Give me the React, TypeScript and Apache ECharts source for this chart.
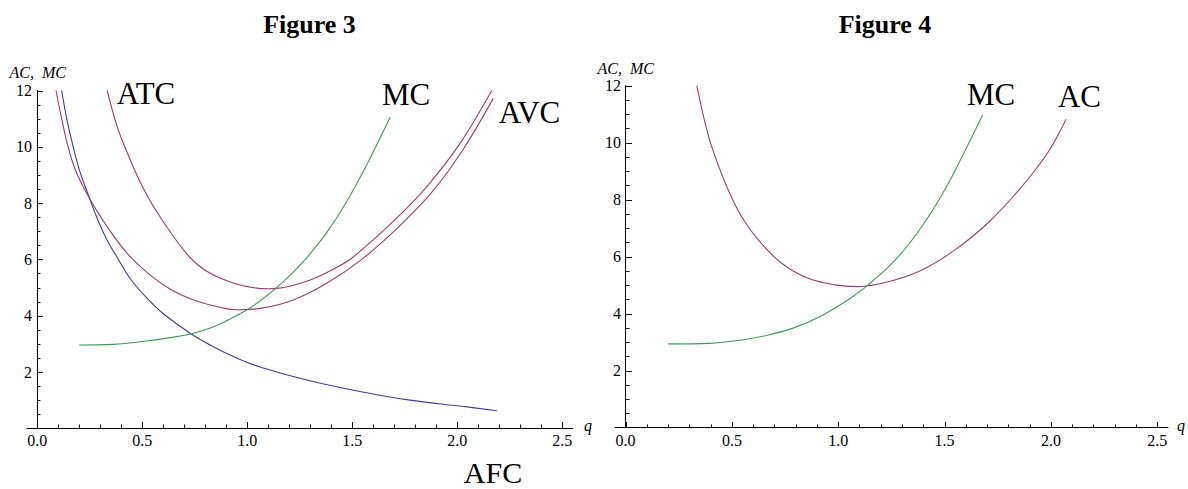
import React, { useEffect, useRef } from 'react';
import * as echarts from 'echarts';

// ---------- Data ----------
const X_LABELS = [0, 0.5, 1, 1.5, 2, 2.5];
const Y_LABELS = [2, 4, 6, 8, 10, 12];

// Figure 3
const AFC_Q = [0.116, 0.14, 0.171, 0.203, 0.243, 0.283, 0.33, 0.378, 0.441, 0.521, 0.6, 0.735, 0.838, 0.949, 1.06, 1.298, 1.536, 1.775, 2.013, 2.188];
const AFC_V = [12.0, 11.0, 10.0, 9.12, 8.29, 7.5, 6.72, 6.1, 5.33, 4.63, 4.07, 3.34, 2.9, 2.5, 2.18, 1.69, 1.31, 1.0, 0.79, 0.625];

const AVC_Q = [0.089, 0.116, 0.143, 0.18, 0.235, 0.307, 0.418, 0.521, 0.632, 0.759, 0.886, 0.949, 1.07, 1.219, 1.378, 1.545, 1.727, 1.886, 2.029, 2.171];
const AVC_V = [12.0, 11.0, 10.1, 9.2, 8.35, 7.45, 6.3, 5.55, 4.95, 4.52, 4.27, 4.21, 4.27, 4.56, 5.15, 6.0, 7.2, 8.45, 9.92, 11.72];

const ATC_Q = [0.333, 0.378, 0.426, 0.489, 0.569, 0.7, 0.79, 0.918, 1.045, 1.1, 1.14, 1.3, 1.426, 1.5, 1.695, 1.854, 2.013, 2.164];
const ATC_V = [12.0, 10.77, 9.83, 8.76, 7.69, 6.3, 5.66, 5.2, 4.98, 4.96, 4.97, 5.27, 5.72, 6.06, 7.35, 8.58, 10.12, 12.0];

const MC3_Q = [0.2, 0.362, 0.521, 0.632, 0.735, 0.854, 0.997, 1.06, 1.14, 1.219, 1.29, 1.378, 1.473, 1.568, 1.68];
const MC3_V = [2.96, 2.98, 3.1, 3.22, 3.36, 3.65, 4.2, 4.52, 5.0, 5.55, 6.12, 6.95, 8.05, 9.35, 11.05];

// Figure 4
const AC_Q = [0.335, 0.382, 0.421, 0.483, 0.546, 0.624, 0.734, 0.859, 0.985, 1.09, 1.236, 1.393, 1.549, 1.706, 1.863, 1.988, 2.071];
const AC_V = [12.0, 10.45, 9.51, 8.34, 7.4, 6.59, 5.77, 5.24, 5.01, 4.95, 5.12, 5.53, 6.24, 7.2, 8.46, 9.68, 10.82];

const MC4_Q = [0.201, 0.389, 0.546, 0.671, 0.797, 0.922, 1.033, 1.09, 1.134, 1.236, 1.33, 1.424, 1.518, 1.596, 1.679];
const MC4_V = [2.94, 2.96, 3.08, 3.25, 3.52, 3.93, 4.42, 4.72, 4.97, 5.64, 6.42, 7.4, 8.58, 9.72, 10.97];

// ---------- Styling ----------
const SERIF = 'Liberation Serif';
const PURPLE = '#993d71';
const BLUE = '#3f3d99';
const GREEN = '#3d9956';

// tick positions (axis decoration): x every 0.1, y every 0.5
const X_TICKS: number[] = [];
for (let i = 0; i <= 25; i++) X_TICKS.push(i / 10);
const Y_TICKS: number[] = [];
for (let i = 1; i <= 24; i++) Y_TICKS.push(i / 2);

const zip = (q: number[], v: number[]) => q.map((x, i) => [x, v[i]]);
const isMajorX = (v: number) => X_LABELS.some((m) => Math.abs(m - v) < 1e-6);
const isMajorY = (v: number) => Y_LABELS.some((m) => Math.abs(m - v) < 1e-6);

function xAxis(gridIndex: number) {
  return {
    gridIndex,
    type: 'value',
    min: -0.05,
    max: 2.55,
    position: 'bottom',
    axisLine: { show: true, onZero: false, lineStyle: { color: '#000', width: 1 } },
    axisTick: { show: false },
    axisLabel: { show: false },
    splitLine: { show: false },
  };
}

function yAxis(gridIndex: number) {
  return {
    gridIndex,
    type: 'value',
    min: 0,
    max: 12,
    interval: 2,
    axisLine: { show: true, onZero: true, lineStyle: { color: '#000', width: 1 } },
    axisTick: { show: false },
    axisLabel: { show: false },
    splitLine: { show: false },
  };
}

function line(name: string, q: number[], v: number[], color: string, idx: number) {
  return {
    name,
    type: 'line',
    xAxisIndex: idx,
    yAxisIndex: idx,
    data: zip(q, v),
    showSymbol: false,
    smooth: 0.35,
    lineStyle: { color, width: 1.1 },
    itemStyle: { color },
    z: 3,
  };
}

// x-axis ticks + labels, placed through the axis scale
function xTicks(idx: number) {
  return {
    type: 'custom',
    xAxisIndex: idx,
    yAxisIndex: idx,
    clip: false,
    silent: true,
    z: 5,
    data: X_TICKS.map((v) => [v, 0]),
    renderItem: (params: any, api: any) => {
      const v = api.value(0);
      const p = api.coord([v, 0]);
      const major = isMajorX(v);
      const x = Math.round(p[0]);
      const y = Math.round(p[1]);
      const len = major ? 6 : 3.5;
      const children: any[] = [
        {
          type: 'rect',
          shape: { x, y: y - len, width: 1, height: len },
          style: { fill: '#111' },
        },
      ];
      if (major) {
        children.push({
          type: 'text',
          style: {
            x: p[0],
            y: y + 4,
            text: v.toFixed(1),
            fill: '#000',
            font: `16px "${SERIF}"`,
            align: 'center',
            verticalAlign: 'top',
          },
        });
      }
      return { type: 'group', children };
    },
  };
}

// y-axis ticks + labels, placed through the axis scale (the y axis sits on x = 0)
function yTicks(idx: number) {
  return {
    type: 'custom',
    xAxisIndex: idx,
    yAxisIndex: idx,
    clip: false,
    silent: true,
    z: 5,
    data: Y_TICKS.map((v) => [0, v]),
    renderItem: (params: any, api: any) => {
      const v = api.value(1);
      const p = api.coord([0, v]);
      const major = isMajorY(v);
      const x = Math.round(p[0]);
      const y = Math.round(p[1]);
      const children: any[] = [
        {
          type: 'rect',
          shape: { x, y, width: major ? 6 : 3.5, height: 1 },
          style: { fill: '#111' },
        },
      ];
      if (major) {
        children.push({
          type: 'text',
          style: {
            x: x - 5,
            y: p[1],
            text: String(v),
            fill: '#000',
            font: `16px "${SERIF}"`,
            align: 'right',
            verticalAlign: 'middle',
          },
        });
      }
      return { type: 'group', children };
    },
  };
}

function txt(text: string, x: number, y: number, fontSize: number, extra: any = {}) {
  return {
    type: 'text',
    x,
    y,
    silent: true,
    style: {
      text,
      fill: '#000',
      fontFamily: SERIF,
      fontSize,
      align: 'center',
      verticalAlign: 'middle',
      ...extra,
    },
  };
}

export default function App() {
  const ref = useRef<HTMLDivElement>(null);

  useEffect(() => {
    if (!ref.current) return;
    const chart = echarts.init(ref.current, null, { renderer: 'svg' });
    const option: any = {
      animation: false,
      backgroundColor: '#fff',
      textStyle: { fontFamily: SERIF },
      grid: [
        { left: 26.8, top: 90.5, width: 546, height: 337.8, containLabel: false },
        { left: 614.9, top: 85.7, width: 553, height: 342, containLabel: false },
      ],
      xAxis: [xAxis(0), xAxis(1)],
      yAxis: [yAxis(0), yAxis(1)],
      series: [
        line('AFC', AFC_Q, AFC_V, BLUE, 0),
        line('AVC', AVC_Q, AVC_V, PURPLE, 0),
        line('ATC', ATC_Q, ATC_V, PURPLE, 0),
        line('MC', MC3_Q, MC3_V, GREEN, 0),
        line('AC', AC_Q, AC_V, PURPLE, 1),
        line('MC', MC4_Q, MC4_V, GREEN, 1),
        xTicks(0),
        yTicks(0),
        xTicks(1),
        yTicks(1),
      ],
      graphic: [
        txt('Figure 3', 309.5, 24.5, 26, { fontWeight: 'bold' }),
        txt('Figure 4', 885, 24.5, 26, { fontWeight: 'bold' }),
        txt('AC,  MC', 37.7, 72.5, 16, { fontStyle: 'italic' }),
        txt('AC,  MC', 625.8, 68, 16, { fontStyle: 'italic' }),
        txt('q', 588, 425, 16, { fontStyle: 'italic' }),
        txt('q', 1181, 425, 16, { fontStyle: 'italic' }),
        txt('ATC', 146, 93, 31),
        txt('MC', 406, 94.5, 31),
        txt('AVC', 529.5, 112, 31),
        txt('AFC', 493, 472, 30),
        txt('MC', 991, 94.5, 31),
        txt('AC', 1079.5, 96.5, 31),
      ],
    };
    chart.setOption(option);
    return () => chart.dispose();
  }, []);

  return (
    <div
      ref={ref}
      style={{ position: 'absolute', left: 0, top: 0, width: 1188, height: 489, background: '#fff' }}
    />
  );
}
